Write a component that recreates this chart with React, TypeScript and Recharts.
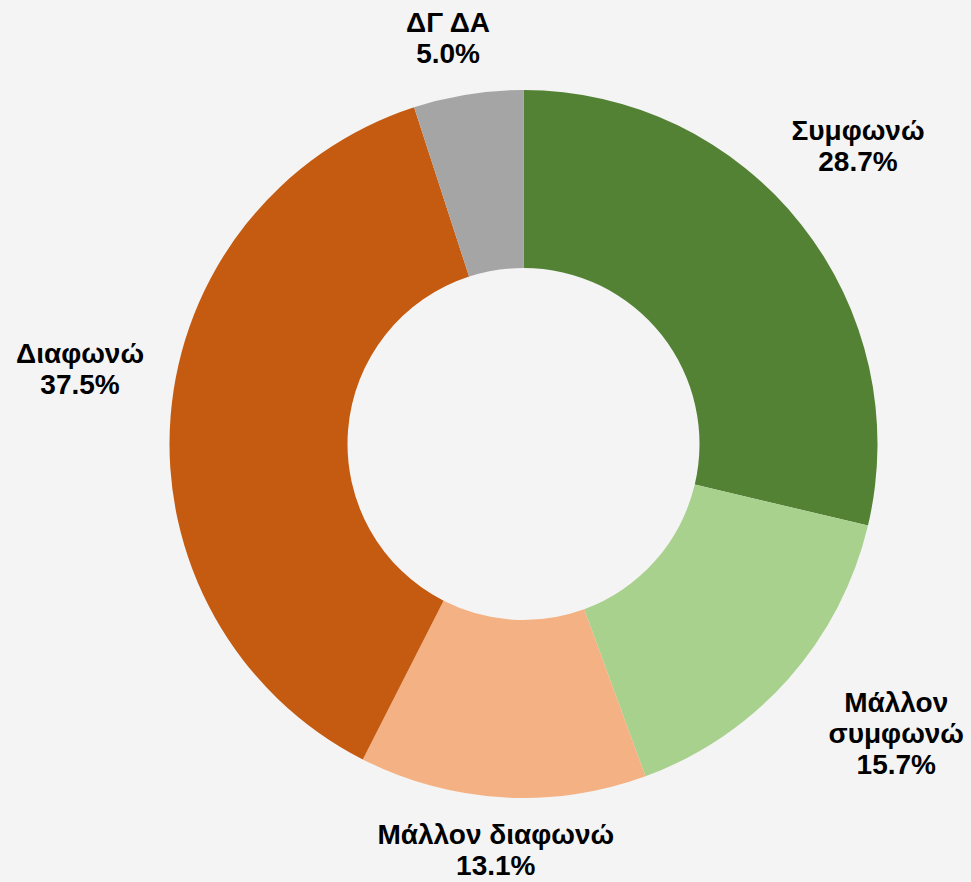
import React from 'react';
import { PieChart, Pie, Cell } from 'recharts';

const categories = ['Συμφωνώ', 'Μάλλον συμφωνώ', 'Μάλλον διαφωνώ', 'Διαφωνώ', 'ΔΓ ΔΑ'];
const shares = [28.7, 15.7, 13.1, 37.5, 5.0];
const labelLines = [['Συμφωνώ'], ['Μάλλον', 'συμφωνώ'], ['Μάλλον διαφωνώ'], ['Διαφωνώ'], ['ΔΓ ΔΑ']];
const colors = ['#548235', '#a9d18e', '#f4b183', '#c55a11', '#a5a5a5'];

// where Excel's "best fit" put each label: distance from centre and angle nudge
const labelRadius = [449, 471, 405, 450, 414];
const labelNudge = [3.5, 3.9, -0.5, -5.3, 1.5];

const data = categories.map((name, i) => ({ name, value: shares[i] }));

const RAD = Math.PI / 180;

const renderLabel = (props: any) => {
    const { cx, cy, midAngle, index, value } = props;
    const a = (midAngle + labelNudge[index]) * RAD;
    const x = cx + labelRadius[index] * Math.cos(a);
    const y = cy - labelRadius[index] * Math.sin(a) + 1;
    const lines = [...labelLines[index], `${value.toFixed(1)}%`];
    const lh = 31;
    const top = y - ((lines.length - 1) * lh) / 2;
    return (
        <text
            x={x}
            y={top}
            textAnchor="middle"
            dominantBaseline="central"
            fontFamily="'Liberation Sans', Arial, sans-serif"
            fontWeight="bold"
            fontSize={28}
            fill="#000"
        >
            {lines.map((l, i) => (
                <tspan key={i} x={x} y={top + i * lh}>
                    {l}
                </tspan>
            ))}
        </text>
    );
};

const App: React.FC = () => (
    <div style={{ position: 'absolute', left: 0, top: 0, width: 971, height: 882, background: '#f4f4f4' }}>
        <PieChart width={971} height={882} margin={{ top: 0, right: 0, bottom: 0, left: 0 }}>
            <Pie
                data={data}
                dataKey="value"
                nameKey="name"
                cx={523.5}
                cy={444}
                innerRadius={176}
                outerRadius={354}
                startAngle={90}
                endAngle={-270}
                stroke="none"
                label={renderLabel}
                labelLine={false}
                isAnimationActive={false}
            >
                {data.map((d, i) => (
                    <Cell key={d.name} fill={colors[i]} />
                ))}
            </Pie>
        </PieChart>
    </div>
);

export default App;
